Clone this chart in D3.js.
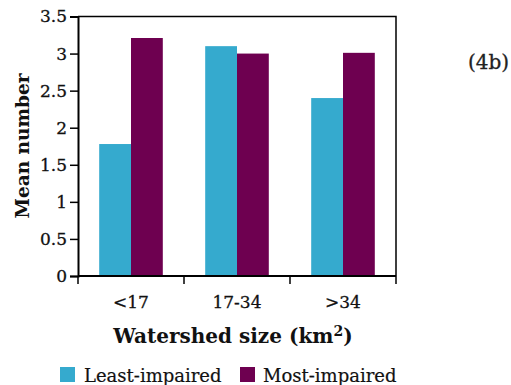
<!DOCTYPE html>
<html><head><meta charset="utf-8">
<script src="https://cdn.jsdelivr.net/npm/d3@7"></script>
<style>body{margin:0;background:#fff}</style>
</head><body>
<svg id="c" width="511" height="385"></svg>
<script>
const categories = ["<17", "17-34", ">34"];
const seriesNames = ["Least-impaired", "Most-impaired"];
const leastImpaired = [1.78, 3.10, 2.40];
const mostImpaired = [3.21, 3.00, 3.01];
const yTicks = [0, 0.5, 1, 1.5, 2, 2.5, 3, 3.5];
const colors = ["#35AACE", "#6E0050"];

const svg = d3.select("#c");
const font = "'DejaVu Serif', serif";
const m = {l: 78, t: 16.5, r: 396, b: 276};
const x = d3.scaleBand().domain(categories).range([m.l, m.r]).paddingInner(0.4).paddingOuter(0.2);
const xs = d3.scaleBand().domain(seriesNames).range([0, x.bandwidth()]);
const y = d3.scaleLinear().domain([0, 3.5]).range([m.b, m.t]);

const data = categories.map((c, i) => ({c, v: [leastImpaired[i], mostImpaired[i]]}));
const g = svg.append("g");
data.forEach(d => {
  d.v.forEach((v, j) => {
    g.append("rect").attr("x", x(d.c) + xs(seriesNames[j])).attr("y", y(v))
      .attr("width", xs.bandwidth()).attr("height", y(0) - y(v)).attr("fill", colors[j]);
  });
});

svg.append("path").attr("d", `M${m.l},${m.t}H${m.r}V${m.b}`).attr("fill","none").attr("stroke","#000").attr("stroke-width",1.5);

const ya = svg.append("g").attr("transform", `translate(${m.l},0)`)
  .call(d3.axisLeft(y).tickValues(yTicks).tickFormat(d => d).tickSize(8).tickPadding(3));
ya.select(".domain").attr("stroke-width", 2);
ya.selectAll(".tick line").attr("stroke-width", 1.5);
ya.selectAll("text").attr("font-family", font).attr("font-size", 17).attr("fill","#111")
  .attr("stroke","#111").attr("stroke-width",0.3);

const xa = svg.append("g").attr("transform", `translate(0,${m.b})`);
xa.append("line").attr("x1", m.l).attr("x2", m.r).attr("stroke","#000").attr("stroke-width",2);
const bounds = [0, 1, 2, 3].map(i => m.l + i * (m.r - m.l) / categories.length);
bounds.forEach(b => xa.append("line").attr("x1", b).attr("x2", b).attr("y1", 0).attr("y2", 8).attr("stroke","#000").attr("stroke-width",1.5));
categories.forEach(c => xa.append("text").attr("x", x(c) + x.bandwidth()/2).attr("y", 32)
  .attr("text-anchor","middle").attr("font-family", font).attr("font-size", 17).attr("fill","#111")
  .attr("stroke","#111").attr("stroke-width",0.3).text(c));

svg.append("text").attr("transform", "translate(29,146) rotate(-90)").attr("text-anchor","middle")
  .attr("font-family", font).attr("font-weight","bold").attr("font-size", 18.5).attr("fill","#111").text("Mean number");

const xt = svg.append("text").attr("x", 233).attr("y", 343).attr("text-anchor","middle")
  .attr("font-family", font).attr("font-weight","bold").attr("font-size", 20).attr("fill","#111");
xt.append("tspan").text("Watershed size (km");
xt.append("tspan").attr("font-size", 14).attr("dy", -7).text("2");
xt.append("tspan").attr("dy", 7).text(")");

svg.append("text").attr("x", 468).attr("y", 69).attr("font-family", font).attr("font-size", 20).attr("fill","#222")
  .attr("stroke","#222").attr("stroke-width",0.3).text("(4b)");

const lg = [{x: 60, tx: 84}, {x: 240, tx: 263}];
seriesNames.forEach((s, j) => {
  svg.append("rect").attr("x", lg[j].x).attr("y", 367).attr("width", 15).attr("height", 15).attr("fill", colors[j]);
  svg.append("text").attr("x", lg[j].tx).attr("y", 382).attr("font-family", font).attr("font-size", 18).attr("fill","#111")
    .attr("stroke","#111").attr("stroke-width",0.2).text(s);
});
</script>
</body></html>
